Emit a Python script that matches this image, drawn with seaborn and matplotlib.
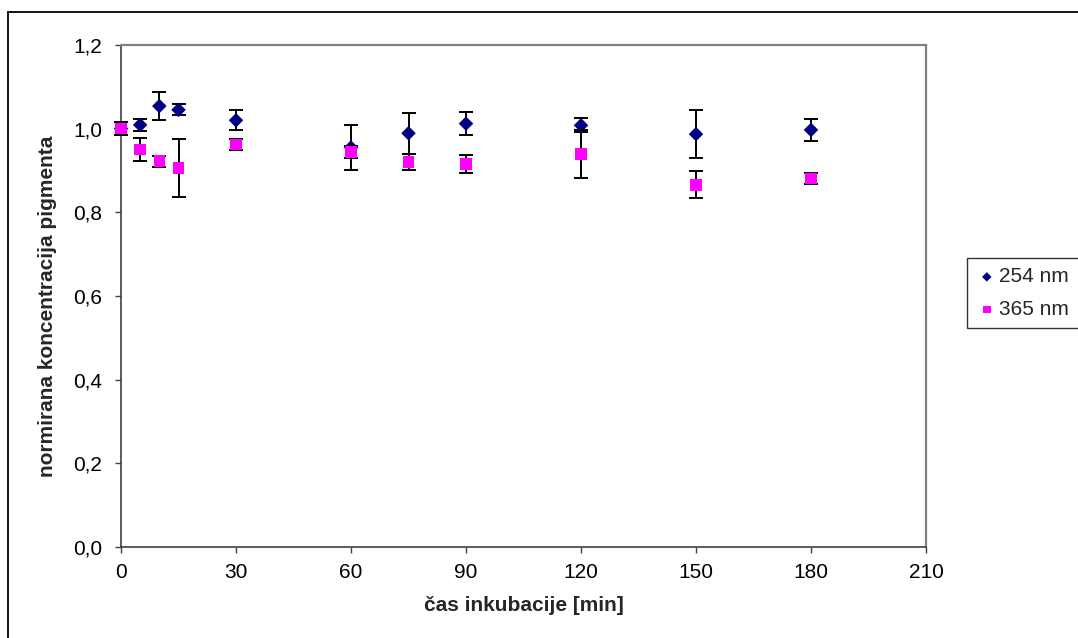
import numpy as np
import pandas as pd
import matplotlib
matplotlib.use("Agg")
import matplotlib.pyplot as plt
from matplotlib.patches import Rectangle
from matplotlib.ticker import FuncFormatter
import seaborn as sns

# data
time_min = [0, 5, 10, 15, 30, 60, 75, 90, 120, 150, 180]
conc_254 = [1.000, 1.009, 1.054, 1.045, 1.020, 0.955, 0.989, 1.012, 1.008, 0.987, 0.997]
err_254 = [0.015, 0.015, 0.034, 0.013, 0.024, 0.054, 0.049, 0.027, 0.017, 0.057, 0.026]
conc_365 = [1.000, 0.950, 0.922, 0.906, 0.962, 0.944, 0.920, 0.915, 0.940, 0.866, 0.881]
err_365 = [0.015, 0.027, 0.013, 0.070, 0.014, 0.015, 0.019, 0.022, 0.058, 0.032, 0.013]
series_names = ["254 nm", "365 nm"]
x_ticks = [0, 30, 60, 90, 120, 150, 180, 210]
y_ticks = [0.0, 0.2, 0.4, 0.6, 0.8, 1.0, 1.2]

df = pd.DataFrame({
    "t": time_min * 2,
    "c": conc_254 + conc_365,
    "e": err_254 + err_365,
    "s": [series_names[0]] * len(time_min) + [series_names[1]] * len(time_min),
})

sns.set_theme(style="white")
plt.rcParams["font.family"] = ["Liberation Sans", "DejaVu Sans"]

fig = plt.figure(figsize=(10.78, 6.38), dpi=100)
ax = fig.add_axes([121 / 1078, 91 / 638, (926 - 121) / 1078, (547 - 45) / 638])

colors = {"254 nm": "#000080", "365 nm": "#FF00FF"}
markers = {"254 nm": "D", "365 nm": "s"}
sizes = {"254 nm": 55, "365 nm": 70}

z = 3
for name in series_names:
    sub = df[df["s"] == name]
    eb = ax.errorbar(sub["t"], sub["c"], yerr=sub["e"], fmt="none", ecolor="black",
                     elinewidth=1.4, capsize=4.8, capthick=1.4, zorder=z)
    for art in eb.lines[1] + eb.lines[2]:
        art.set_clip_on(False)
    sns.scatterplot(data=sub, x="t", y="c", marker=markers[name], color=colors[name],
                    s=sizes[name], edgecolor="none", linewidth=0, ax=ax, zorder=z + 1,
                    label=name, clip_on=False)
    z += 2

ax.set_xlim(0, 210)
ax.set_ylim(0, 1.2)
ax.set_xticks(x_ticks)
ax.set_yticks(y_ticks)
ax.yaxis.set_major_formatter(FuncFormatter(lambda v, p: f"{v:.1f}".replace(".", ",")))
ax.xaxis.set_major_formatter(FuncFormatter(lambda v, p: f"{int(round(v))}"))
ax.tick_params(axis="both", which="major", direction="out", length=4.5, width=1,
               color="#404040", labelsize=15, labelcolor="black")
ax.tick_params(axis="x", pad=7)
ax.tick_params(axis="y", pad=9)
ax.tick_params(left=True, bottom=True)

for side in ["left", "bottom"]:
    ax.spines[side].set_color("#404040")
    ax.spines[side].set_linewidth(1.2)
for side in ["top", "right"]:
    ax.spines[side].set_visible(True)
    ax.spines[side].set_color("#808080")
    ax.spines[side].set_linewidth(1.6)

ax.set_xlabel("čas inkubacije [min]", fontsize=15, fontweight="bold")
ax.set_ylabel("normirana koncentracija pigmenta", fontsize=15, fontweight="bold")
ax.xaxis.set_label_coords(0.5, (547 - 596) / 502)
ax.yaxis.set_label_coords((57 - 121) / 805, (547 - 306) / 502)

leg = ax.legend(loc="upper left", bbox_to_anchor=(967 / 1078, 1 - 258 / 638), bbox_transform=fig.transFigure,
                frameon=True, fancybox=False, fontsize=15, markerscale=0.65,
                handletextpad=0.1, borderpad=0.45, labelspacing=0.65, handlelength=1.0,
                borderaxespad=0)
leg.get_frame().set_edgecolor("black")
leg.get_frame().set_linewidth(1.0)

# outer chart border (cropped at right/bottom)
fig.patches.append(Rectangle((8 / 1078, -0.1), 1.2, (638 - 12) / 638 + 0.1,
                             transform=fig.transFigure, fill=False,
                             edgecolor="black", linewidth=1.3))

fig.savefig("out.png", dpi=100)
